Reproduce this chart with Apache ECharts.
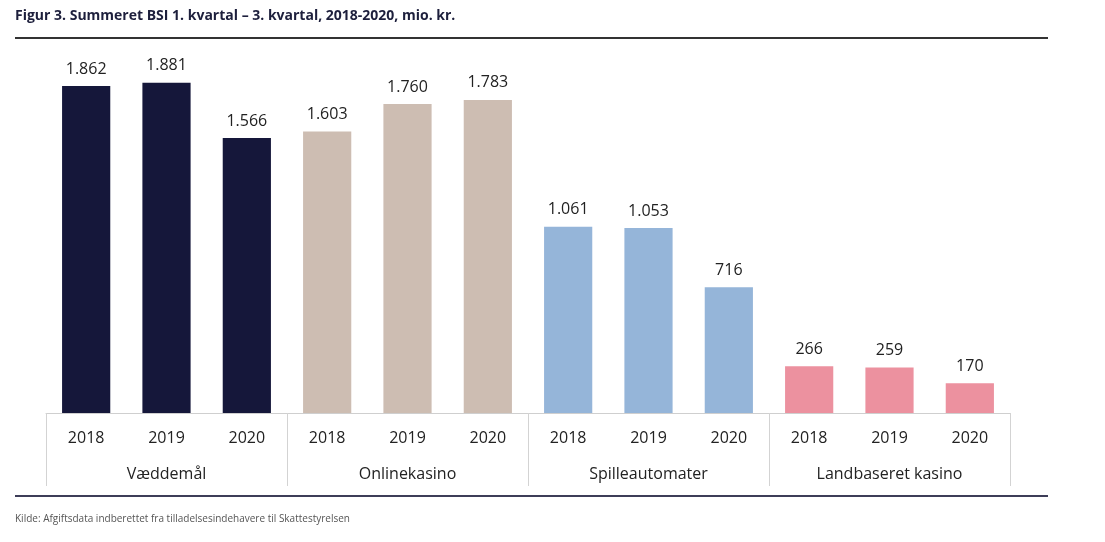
<!DOCTYPE html>
<html><head><meta charset="utf-8">
<script src="https://cdn.jsdelivr.net/npm/echarts@6/dist/echarts.min.js"></script>
<style>html,body{margin:0;padding:0;background:#fff}#c{width:1105px;height:542px}</style>
</head><body><div id="c"></div>
<script>
const groups = ['Væddemål', 'Onlinekasino', 'Spilleautomater', 'Landbaseret kasino'];
const years = ['2018', '2019', '2020'];
const vaeddemaal = [1862, 1881, 1566];
const onlinekasino = [1603, 1760, 1783];
const spilleautomater = [1061, 1053, 716];
const landbaseret = [266, 259, 170];
const groupColors = ['#15173a', '#cdbdb2', '#95b5d9', '#ec919f'];

const seriesByGroup = [vaeddemaal, onlinekasino, spilleautomater, landbaseret];
const cats = [];
const data = [];
seriesByGroup.forEach((vals, g) => {
  vals.forEach((v, i) => {
    cats.push(years[i]);
    data.push({ value: v, itemStyle: { color: groupColors[g] } });
  });
});

const fmt = v => String(v).replace(/\B(?=(\d{3})+(?!\d))/g, '.');
const font = 'Open Sans';

const chart = echarts.init(document.getElementById('c'));
chart.setOption({
  animation: false,
  grid: { left: 46, right: 95, top: 61.8, bottom: 129 },
  xAxis: [
    {
      type: 'category', data: cats, position: 'bottom',
      axisLine: { show: true, lineStyle: { color: '#cfcfcf', width: 1 } },
      axisTick: { show: false },
      axisLabel: { margin: 17, fontSize: 16, color: '#222', fontFamily: font }
    },
    {
      type: 'category', data: groups, position: 'bottom',
      axisLine: { show: false },
      axisTick: { show: true, length: 73, lineStyle: { color: '#d3d3d3', width: 1 } },
      axisLabel: { margin: 53, fontSize: 16, color: '#222', fontFamily: font }
    }
  ],
  yAxis: { type: 'value', min: 0, max: 2000, show: false, splitLine: { show: false } },
  series: [{
    type: 'bar', xAxisIndex: 0, data: data, barWidth: '60%',
    label: { show: true, position: 'top', distance: 9, fontSize: 16, color: '#222', fontFamily: font,
      formatter: p => fmt(p.value) }
  }],
  graphic: [
    { type: 'text', left: 15, top: 9, style: { text: 'Figur 3. Summeret BSI 1. kvartal – 3. kvartal, 2018-2020, mio. kr.', font: 'bold 14px "Open Sans"', fill: '#1d1f3c' } },
    { type: 'line', shape: { x1: 15, y1: 38, x2: 1048, y2: 38 }, style: { stroke: '#333', lineWidth: 2 } },
    { type: 'line', shape: { x1: 15, y1: 496, x2: 1048, y2: 496 }, style: { stroke: '#3d3d58', lineWidth: 2 } },
    { type: 'text', left: 15, top: 514, style: { text: 'Kilde: Afgiftsdata indberettet fra tilladelsesindehavere til Skattestyrelsen', font: '10px "Open Sans"', fill: '#555' } }
  ]
});
</script></body></html>
